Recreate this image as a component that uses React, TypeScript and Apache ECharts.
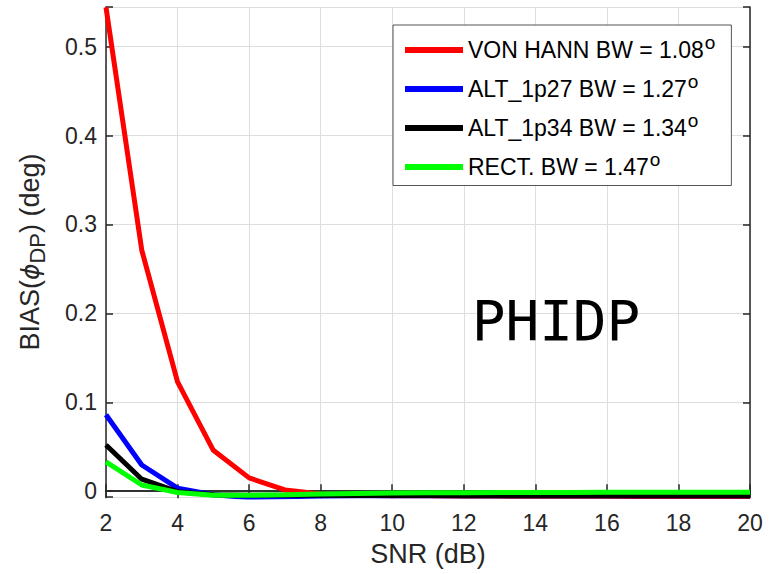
import React, { useEffect, useRef } from "react";
import * as echarts from "echarts";

const snr = [2, 3, 4, 5, 6, 7, 8, 9, 10, 11, 12, 13, 14, 15, 16, 17, 18, 19, 20];
const vonHann = [0.544, 0.271, 0.123, 0.046, 0.015, 0.0015, -0.003, -0.0045, -0.005, -0.0052, -0.0054, -0.0055, -0.0056, -0.0057, -0.0057, -0.0058, -0.0058, -0.0059, -0.006];
const alt1p27 = [0.086, 0.0295, 0.0034, -0.004, -0.0072, -0.0062, -0.0055, -0.005, -0.005, -0.005, -0.005, -0.005, -0.005, -0.005, -0.005, -0.005, -0.005, -0.005, -0.005];
const alt1p34 = [0.052, 0.0135, -0.0005, -0.004, -0.0045, -0.0045, -0.0045, -0.0047, -0.0048, -0.0049, -0.005, -0.005, -0.005, -0.005, -0.005, -0.005, -0.005, -0.005, -0.005];
const rect = [0.033, 0.007, -0.0015, -0.0045, -0.0045, -0.004, -0.003, -0.0025, -0.002, -0.0018, -0.0016, -0.0015, -0.0014, -0.0013, -0.0012, -0.0012, -0.0011, -0.0011, -0.0011];

const seriesNames = ["VON HANN BW = 1.08", "ALT_1p27 BW = 1.27", "ALT_1p34 BW = 1.34", "RECT. BW = 1.47"];
const seriesColors = ["#ff0000", "#0000ff", "#000000", "#00ff00"];
const seriesValues = [vonHann, alt1p27, alt1p34, rect];

const xMin = 2, xMax = 20, xInterval = 2;
const yMin = -0.0065, yMax = 0.5445;

const axisColor = "#262626";
const gridColor = "#dedede";
const FONT = "Liberation Sans, Arial, Helvetica, sans-serif";

export default function App() {
  const ref = useRef<HTMLDivElement>(null);
  useEffect(() => {
    document.body.style.margin = "0";
    const chart = echarts.init(ref.current!, null, { renderer: "svg" });
    const yFormatter = (v: number) => {
      const t = v * 10;
      if (Math.abs(t - Math.round(t)) < 1e-6) return String(Math.round(t) / 10);
      return "";
    };
    const option: any = {
      animation: false,
      backgroundColor: "#ffffff",
      textStyle: { fontFamily: FONT },
      grid: { left: 106, top: 7, right: 33, bottom: 77, containLabel: false },
      xAxis: [
        {
          type: "value", min: xMin, max: xMax, interval: xInterval, position: "bottom",
          name: "SNR (dB)", nameLocation: "middle", nameGap: 43,
          nameTextStyle: { fontSize: 27, color: axisColor, fontFamily: FONT },
          axisLine: { show: true, lineStyle: { color: axisColor, width: 1.5 } },
          axisTick: { show: true, inside: true, length: 7, lineStyle: { color: axisColor, width: 1.5 } },
          axisLabel: { fontSize: 23, color: axisColor, margin: 14, fontFamily: FONT },
          splitLine: { show: true, lineStyle: { color: gridColor, width: 1 } },
        },
        {
          type: "value", min: xMin, max: xMax, interval: xInterval, position: "top",
          axisLine: { show: true, lineStyle: { color: axisColor, width: 1.5 } },
          axisTick: { show: true, inside: true, length: 7, lineStyle: { color: axisColor, width: 1.5 } },
          axisLabel: { show: false },
          splitLine: { show: false },
        },
      ],
      yAxis: [
        {
          type: "value", min: yMin, max: yMax, splitNumber: 5, position: "left",
          name: "BIAS({phi|ϕ}{sub|DP}) (deg)", nameLocation: "middle", nameGap: 58,
          nameTextStyle: {
            fontSize: 27, color: axisColor, fontFamily: FONT,
            rich: {
              phi: { fontSize: 25, fontStyle: "italic", color: axisColor, fontFamily: "DejaVu Sans, sans-serif" },
              sub: { fontSize: 22, color: axisColor, fontFamily: FONT, padding: [14, 0, 0, 0] },
            },
          },
          axisLine: { show: true, lineStyle: { color: axisColor, width: 1.5 } },
          axisTick: { show: true, inside: true, length: 7, lineStyle: { color: axisColor, width: 1.5 } },
          axisLabel: { fontSize: 23, color: axisColor, margin: 9, fontFamily: FONT, formatter: yFormatter },
          splitLine: { show: true, lineStyle: { color: gridColor, width: 1 } },
        },
        {
          type: "value", min: yMin, max: yMax, splitNumber: 5, position: "right",
          axisLine: { show: true, lineStyle: { color: axisColor, width: 1.5 } },
          axisTick: { show: true, inside: true, length: 7, lineStyle: { color: axisColor, width: 1.5 } },
          axisLabel: { show: false },
          splitLine: { show: false },
        },
      ],
      legend: {
        show: true,
        orient: "vertical",
        left: 393, top: 25,
        padding: [8, 16, 7, 12],
        itemGap: 10.5,
        itemWidth: 58, itemHeight: 6,
        icon: "rect",
        backgroundColor: "#ffffff",
        borderColor: "#555555", borderWidth: 1,
        data: seriesNames,
        formatter: (name: string) => `${name}{sup|o}`,
        textStyle: {
          fontSize: 23, color: "#000000", fontFamily: FONT,
          rich: { sup: { fontSize: 19, color: "#000000", fontFamily: FONT, padding: [0, 0, 15, 1] } },
        },
      },
      graphic: [
        {
          type: "text", x: 556, y: 320, z: 10,
          style: { text: "PHIDP", fontSize: 56, fontFamily: "DejaVu Sans Mono, monospace", fill: "#000000", align: "center", verticalAlign: "middle" },
        },
      ],
      series: seriesNames.map((n, k) => ({
        name: n,
        type: "line",
        xAxisIndex: 0, yAxisIndex: 0,
        data: snr.map((x, i) => [x, seriesValues[k][i]]),
        showSymbol: false, symbol: "none",
        clip: true,
        lineStyle: { color: seriesColors[k], width: 5 },
        itemStyle: { color: seriesColors[k] },
        z: 2 + k,
      })),
    };
    chart.setOption(option);
    return () => chart.dispose();
  }, []);
  return <div ref={ref} style={{ position: "fixed", left: 0, top: 0, width: 783, height: 574 }} />;
}
